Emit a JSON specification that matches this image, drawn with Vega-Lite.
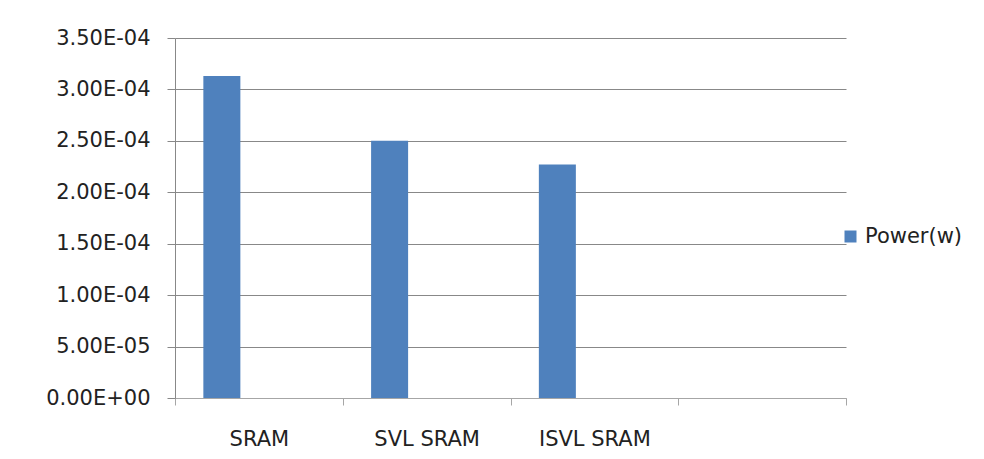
{
  "$schema": "https://vega.github.io/schema/vega-lite/v6.json",
  "autosize": {"type": "none"},
  "width": 671,
  "height": 360,
  "padding": {"left": 175, "top": 38, "right": 138, "bottom": 61},
  "background": "white",
  "data": {
    "values": [
      {"memory": "SRAM", "series": "Power(w)", "power": 0.000313},
      {"memory": "SVL SRAM", "series": "Power(w)", "power": 0.00025},
      {"memory": "ISVL SRAM", "series": "Power(w)", "power": 0.000227}
    ]
  },
  "mark": {"type": "bar", "color": "#4F81BD", "width": {"band": 0.662}},
  "encoding": {
    "x": {
      "field": "memory",
      "type": "nominal",
      "sort": null,
      "scale": {"domain": ["SRAM", "SVL SRAM", "ISVL SRAM", ""], "paddingInner": 0, "paddingOuter": 0},
      "axis": {
        "title": null,
        "labelAngle": 0,
        "tickBand": "extent",
        "grid": false,
        "domainColor": "#A6A6A6",
        "tickColor": "#A6A6A6",
        "tickSize": 7,
        "labelPadding": 23,
        "labelFont": "DejaVu Sans",
        "labelFontSize": 21,
        "labelColor": "#222222"
      }
    },
    "xOffset": {
      "field": "series",
      "type": "nominal",
      "scale": {"domain": ["Power(w)"], "paddingInner": 0, "paddingOuter": 1, "align": 0}
    },
    "y": {
      "field": "power",
      "type": "quantitative",
      "scale": {"domain": [0, 0.00035], "nice": false},
      "axis": {
        "title": null,
        "values": [0, 0.00005, 0.0001, 0.00015, 0.0002, 0.00025, 0.0003, 0.00035],
        "labelExpr": "upper(replace(replace(format(datum.value, '.2e'), 'e-', 'e-0'), 'e+', 'e+0'))",
        "grid": true,
        "gridColor": "#888888",
        "domainColor": "#888888",
        "tickColor": "#888888",
        "tickSize": 8,
        "labelPadding": 17,
        "labelFont": "DejaVu Sans",
        "labelFontSize": 21,
        "labelColor": "#222222"
      }
    },
    "color": {
      "field": "series",
      "type": "nominal",
      "scale": {"domain": ["Power(w)"], "range": ["#4F81BD"]},
      "legend": {
        "title": null,
        "orient": "none",
        "legendX": 665,
        "legendY": 188,
        "padding": 0,
        "symbolType": "square",
        "symbolSize": 144,
        "symbolStrokeWidth": 0,
        "labelOffset": 4,
        "labelFont": "DejaVu Sans",
        "labelFontSize": 21,
        "labelColor": "#222222"
      }
    }
  },
  "config": {"view": {"stroke": null}}
}
